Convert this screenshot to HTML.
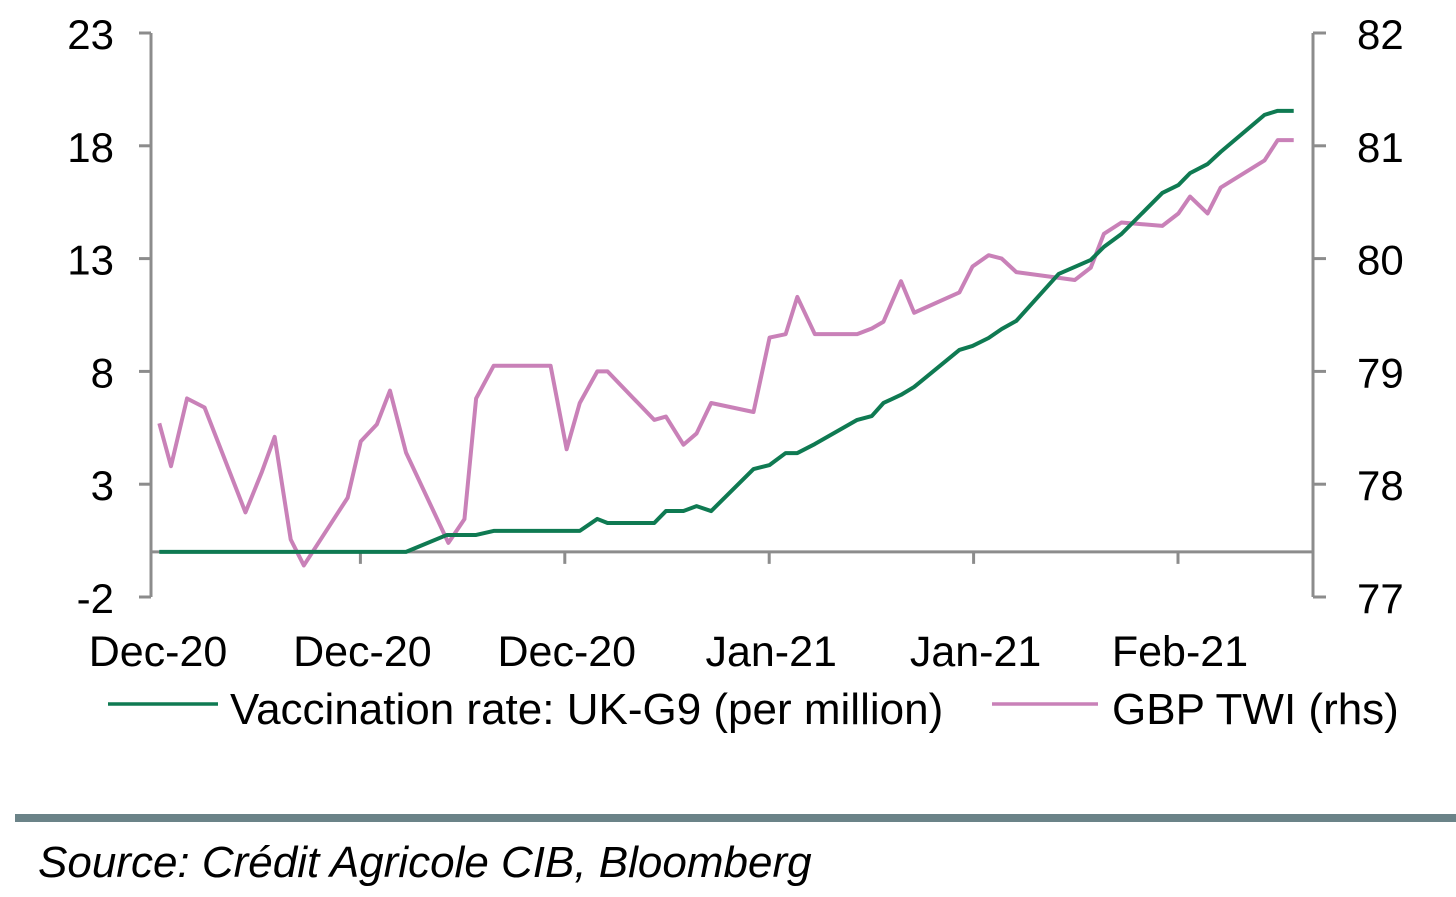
<!DOCTYPE html>
<html><head><meta charset="utf-8"><style>
body{margin:0;background:#fff;width:1456px;height:892px;overflow:hidden;font-family:"Liberation Sans",sans-serif}
</style></head><body>
<svg id="chart" width="1456" height="892" xmlns="http://www.w3.org/2000/svg" font-family="Liberation Sans, sans-serif">
<g id="axes"></g>
<g id="series"></g>
<g>
<line x1="108" y1="704" x2="218" y2="704" stroke="#0f7a52" stroke-width="3.5"/>
<text x="230" y="724" font-size="44" fill="#000">Vaccination rate: UK-G9 (per million)</text>
<line x1="992" y1="704" x2="1098" y2="704" stroke="#c981b8" stroke-width="3.5"/>
<text x="1112" y="724" font-size="44" fill="#000">GBP TWI (rhs)</text>
</g>
<rect x="15" y="814" width="1441" height="8" fill="#6b8388"/>
<text x="38" y="877" font-size="44" font-style="italic" fill="#000">Source: Crédit Agricole CIB, Bloomberg</text>
</svg>
<script>
const leftTicks=[-2,3,8,13,18,23];
const rightTicks=[77,78,79,80,81,82];
const xTickDays=[0,14,28,42,56,70];
const xLabels=["Dec-20","Dec-20","Dec-20","Jan-21","Jan-21","Feb-21"];
const vacDays=[0.5,17.4,20.2,22.2,23.4,29.3,30.5,31.2,34.4,35.2,36.4,37.3,38.3,41.2,42.3,43.4,44.2,45.4,48.3,49.3,50.1,51.3,52.2,55.3,56.2,57.3,58.2,59.2,62.1,64.3,65.2,66.4,69.2,70.3,71.1,72.3,73.2,76.2,77.1,78.2];
const vacVals=[0,0,0.75,0.75,0.93,0.93,1.46,1.28,1.28,1.81,1.81,2.03,1.81,3.67,3.85,4.38,4.38,4.78,5.85,6.02,6.6,6.96,7.31,8.95,9.13,9.48,9.88,10.24,12.32,12.94,13.52,14.09,15.91,16.26,16.79,17.19,17.73,19.37,19.55,19.55];
const gbpDays=[0.5,1.3,2.4,3.6,6.4,7.5,8.4,9.5,10.4,13.4,14.3,15.4,16.3,17.4,20.3,21.4,22.2,23.4,27.3,28.4,29.3,30.5,31.2,34.4,35.2,36.4,37.3,38.3,41.2,42.3,43.4,44.2,45.4,48.3,49.3,50.1,51.3,52.2,55.3,56.2,57.3,58.2,59.2,63.2,64.3,65.2,66.4,69.2,70.3,71.1,72.3,73.2,76.2,77.1,78.2];
const gbpVals=[78.54,78.16,78.76,78.68,77.75,78.1,78.42,77.51,77.28,77.88,78.38,78.53,78.83,78.28,77.48,77.69,78.76,79.05,79.05,78.31,78.72,79.0,79.0,78.57,78.6,78.35,78.45,78.72,78.64,79.3,79.33,79.66,79.33,79.33,79.38,79.44,79.8,79.52,79.7,79.93,80.03,80.0,79.88,79.81,79.92,80.22,80.32,80.29,80.4,80.55,80.4,80.63,80.87,81.05,81.05];

const NS="http://www.w3.org/2000/svg";
const X0=152,PXD=14.6,YB=597,YT=33,LX=151,RX=1313;
const xs=d=>X0+d*PXD;
const yl=v=>YB-(v+2)/25*(YB-YT);
const yr=v=>YB-(v-77)/5*(YB-YT);
function mk(tag,attrs,parent){const e=document.createElementNS(NS,tag);for(const k in attrs)e.setAttribute(k,attrs[k]);parent.appendChild(e);return e;}
const ax=document.getElementById('axes'),se=document.getElementById('series');
const G="#8c8c8c";
let e;
e=mk('line',{x1:LX,y1:YT,x2:LX,y2:YB,stroke:G,'stroke-width':3},ax);


e=mk('line',{x1:RX,y1:YT,x2:RX,y2:YB,stroke:G,'stroke-width':3},ax);


e=mk('line',{x1:LX,y1:yl(0),x2:RX,y2:yl(0),stroke:G,'stroke-width':3},ax);


leftTicks.forEach(v=>{
  e=mk('line',{x1:139,y1:yl(v),x2:LX,y2:yl(v),stroke:G,'stroke-width':3},ax);
  
  
  e=mk('text',{x:114,y:yl(v)+16,'font-size':42,'text-anchor':'end',fill:'#000'},ax);
  e.textContent=v;
  
  
});
rightTicks.forEach(v=>{
  e=mk('line',{x1:RX,y1:yr(v),x2:1326,y2:yr(v),stroke:G,'stroke-width':3},ax);
  
  
  e=mk('text',{x:1357,y:yr(v)+16,'font-size':42,fill:'#000'},ax);
  e.textContent=v;
  
  
});
xTickDays.forEach((d,i)=>{
  if(i>0){
    e=mk('line',{x1:xs(d)+4,y1:yl(0),x2:xs(d)+4,y2:yl(0)+12,stroke:G,'stroke-width':3},ax);
    
    
  }
  e=mk('text',{x:xs(d)+6,y:666,'font-size':43,'text-anchor':'middle',fill:'#000'},ax);
  e.textContent=xLabels[i];
  
  
});
e=mk('polyline',{points:gbpDays.map((d,i)=>xs(d)+','+yr(gbpVals[i])).join(' '),fill:'none',stroke:'#c981b8','stroke-width':4,'stroke-linejoin':'round'},se);


e=mk('polyline',{points:vacDays.map((d,i)=>xs(d)+','+yl(vacVals[i])).join(' '),fill:'none',stroke:'#0f7a52','stroke-width':4,'stroke-linejoin':'round'},se);


</script>
</body></html>
